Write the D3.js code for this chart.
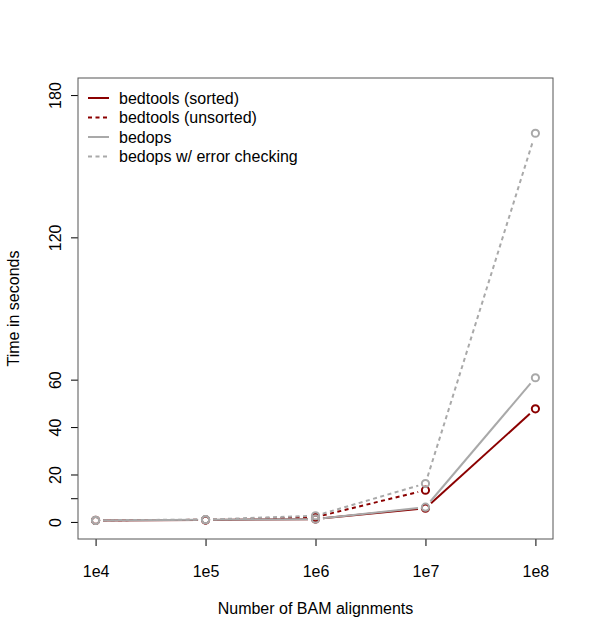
<!DOCTYPE html>
<html>
<head>
<meta charset="utf-8">
<script src="https://cdn.jsdelivr.net/npm/d3@7"></script>
<style>
  body { margin: 0; background: #fff; }
  text { font-family: "Liberation Sans", Arial, sans-serif; fill: #000; }
</style>
</head>
<body>
<div id="chart"></div>
<script>
// data
var alignments = [1e4, 1e5, 1e6, 1e7, 1e8];
var xTickLabels = ["1e4", "1e5", "1e6", "1e7", "1e8"];
var yTickValues = [0, 10, 20, 40, 60, 120, 180];

var bedtoolsSorted = [0.6, 0.8, 1.2, 5.8, 47.7];
var bedtoolsUnsorted = [0.7, 0.9, 2.0, 13.4, null];
var bedops = [0.6, 0.9, 1.2, 6.2, 60.8];
var bedopsErrorCheck = [0.7, 1.0, 2.6, 16.2, 163.9];

var seriesNames = ["bedtools (sorted)", "bedtools (unsorted)", "bedops", "bedops w/ error checking"];
var seriesColors = ["#8B0000", "#8B0000", "#A9A9A9", "#A9A9A9"];
var seriesDashed = [false, true, false, true];
var seriesValues = [bedtoolsSorted, bedtoolsUnsorted, bedops, bedopsErrorCheck];

var svgWidth = 593;
var svgHeight = 638;

// plot box like R's default layout
var box = { left: 78, right: 553, top: 78, bottom: 539 };

var svg = d3.select("#chart")
  .append("svg")
  .attr("width", svgWidth)
  .attr("height", svgHeight);

// R extends the axis ranges by 4% on each side
var xScale = d3.scaleLog()
  .domain([Math.pow(10, 4 - 0.16), Math.pow(10, 8 + 0.16)])
  .range([box.left, box.right]);

var yScale = d3.scaleLinear()
  .domain([-7.2, 187.2])
  .range([box.bottom, box.top]);

// axes
var bottomAxis = d3.axisBottom(xScale)
  .tickValues(alignments)
  .tickSize(7)
  .tickFormat((d, i) => xTickLabels[i]);

var leftAxis = d3.axisLeft(yScale)
  .tickValues(yTickValues)
  .tickSize(7)
  .tickFormat(d => d === 10 ? "" : d); // R drops the 10 label (overlap)

var xAxisG = svg.append("g")
  .attr("transform", `translate(0, ${box.bottom})`)
  .call(bottomAxis);
xAxisG.select(".domain").remove();
xAxisG.selectAll("line").attr("stroke", "#000");
xAxisG.selectAll("text")
  .attr("y", 38)
  .attr("dy", null)
  .style("font-size", "16px")
  .style("font-family", "Liberation Sans, Arial, sans-serif")
  .attr("fill", "#000");

var yAxisG = svg.append("g")
  .attr("transform", `translate(${box.left}, 0)`)
  .call(leftAxis);
yAxisG.select(".domain").remove();
yAxisG.selectAll("line").attr("stroke", "#000");
yAxisG.selectAll("text")
  .attr("x", null)
  .attr("dy", null)
  .attr("text-anchor", "middle")
  .attr("transform", "translate(-17, 0) rotate(-90)")
  .style("font-size", "16px")
  .style("font-family", "Liberation Sans, Arial, sans-serif")
  .attr("fill", "#000");

// box
svg.append("rect")
  .attr("x", box.left)
  .attr("y", box.top)
  .attr("width", box.right - box.left)
  .attr("height", box.bottom - box.top)
  .attr("fill", "none")
  .attr("stroke", "#555")
  .attr("stroke-width", 1);

// lines with gaps around the points (R type = "b")
var gap = 7.5;
var line = d3.line().x(d => d[0]).y(d => d[1]);

seriesValues.forEach(function(vals, s) {
  var g = svg.append("g");
  var pts = [];
  vals.forEach(function(v, i) {
    if (v !== null) pts.push([xScale(alignments[i]), yScale(v)]);
    else pts.push(null);
  });

  for (var i = 0; i < pts.length - 1; i++) {
    var a = pts[i], b = pts[i + 1];
    if (!a || !b) continue;
    var dx = b[0] - a[0], dy = b[1] - a[1];
    var len = Math.sqrt(dx * dx + dy * dy);
    if (len <= 2 * gap) continue;
    var ux = dx / len, uy = dy / len;
    g.append("path")
      .attr("d", line([[a[0] + ux * gap, a[1] + uy * gap], [b[0] - ux * gap, b[1] - uy * gap]]))
      .attr("fill", "none")
      .attr("stroke", seriesColors[s])
      .attr("stroke-width", 2)
      .attr("stroke-dasharray", seriesDashed[s] ? "4,3.5" : null);
  }

  g.selectAll("circle")
    .data(pts.filter(p => p))
    .enter()
    .append("circle")
    .attr("cx", d => d[0])
    .attr("cy", d => d[1])
    .attr("r", 3.6)
    .attr("fill", "none")
    .attr("stroke", seriesColors[s])
    .attr("stroke-width", 2);
});

// legend
var legend = svg.append("g");
seriesNames.forEach(function(name, i) {
  var y = 98 + i * 19.5;
  legend.append("line")
    .attr("x1", 88)
    .attr("x2", 109)
    .attr("y1", y)
    .attr("y2", y)
    .attr("stroke", seriesColors[i])
    .attr("stroke-width", 2)
    .attr("stroke-dasharray", seriesDashed[i] ? "4,3.5" : null);
  legend.append("text")
    .attr("x", 119)
    .attr("y", y + 5.5)
    .style("font-size", "16px")
    .text(name);
});

// axis titles
svg.append("text")
  .attr("x", (box.left + box.right) / 2)
  .attr("y", 614)
  .attr("text-anchor", "middle")
  .style("font-size", "16px")
  .text("Number of BAM alignments");

svg.append("text")
  .attr("transform", `translate(19, ${(box.top + box.bottom) / 2}) rotate(-90)`)
  .attr("text-anchor", "middle")
  .style("font-size", "16px")
  .text("Time in seconds");
</script>
</body>
</html>
